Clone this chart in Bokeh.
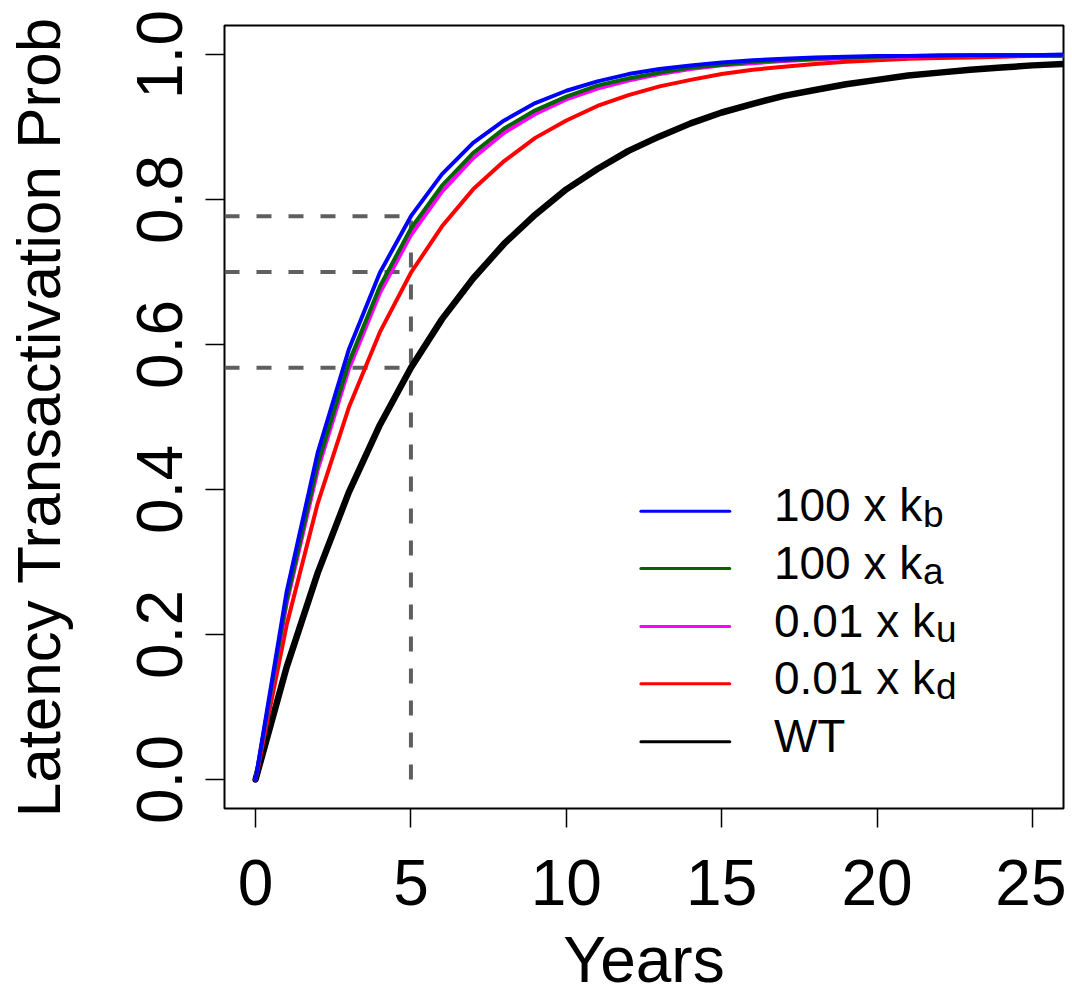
from bokeh.plotting import figure
from bokeh.models import FixedTicker, Range1d, ColumnDataSource
from bokeh.core.properties import value
from bokeh.embed import file_html
from bokeh.resources import INLINE

FONT = "Liberation Sans"

# ---------------- data ----------------
years = list(range(0, 28))
prob_kb_100 = [0, 0.259, 0.451, 0.593, 0.699, 0.777, 0.835, 0.878, 0.909, 0.933, 0.950, 0.963, 0.973, 0.980,
               0.985, 0.989, 0.992, 0.994, 0.996, 0.997, 0.998, 0.998, 0.999, 0.999, 0.999, 0.999, 1.000, 1.000]
prob_ka_100 = [0, 0.248, 0.435, 0.575, 0.680, 0.760, 0.819, 0.864, 0.898, 0.923, 0.942, 0.957, 0.967, 0.975,
               0.982, 0.986, 0.990, 0.992, 0.994, 0.996, 0.997, 0.998, 0.998, 0.999, 0.999, 0.999, 0.999, 1.000]
prob_ku_001 = [0, 0.243, 0.427, 0.566, 0.671, 0.751, 0.811, 0.857, 0.892, 0.918, 0.938, 0.953, 0.964, 0.973,
               0.980, 0.985, 0.988, 0.991, 0.993, 0.995, 0.996, 0.997, 0.998, 0.998, 0.999, 0.999, 0.999, 0.999]
prob_kd_001 = [0, 0.213, 0.381, 0.513, 0.617, 0.699, 0.763, 0.814, 0.853, 0.885, 0.909, 0.929, 0.944, 0.956,
               0.965, 0.973, 0.979, 0.983, 0.987, 0.990, 0.992, 0.994, 0.995, 0.996, 0.997, 0.998, 0.998, 0.999]
prob_wt = [0, 0.155, 0.285, 0.396, 0.489, 0.568, 0.635, 0.691, 0.739, 0.779, 0.814, 0.842, 0.867, 0.887,
           0.905, 0.920, 0.932, 0.943, 0.951, 0.959, 0.965, 0.971, 0.975, 0.979, 0.982, 0.985, 0.987, 0.989]

legend_main = ["100 x k", "100 x k", "0.01 x k", "0.01 x k", "WT"]
legend_sub = ["b", "a", "u", "d", ""]

ref_year = 5
ref_probs = [0.777, 0.700, 0.568]

x_ticks = [0, 5, 10, 15, 20, 25]
y_ticks = [0.0, 0.2, 0.4, 0.6, 0.8, 1.0]
y_tick_labels = ["0.0", "0.2", "0.4", "0.6", "0.8", "1.0"]

# ---------------- styles ----------------
series = [prob_kb_100, prob_ka_100, prob_ku_001, prob_kd_001, prob_wt]
colors = ["#0000FF", "#006400", "#FF00FF", "#FF0000", "#000000"]
widths = [4, 4, 4, 4, 6.5]

p = figure(width=1066, height=1000, output_backend="svg", toolbar_location=None,
           x_range=Range1d(-1, 26), y_range=Range1d(-0.04, 1.04),
           min_border_left=223, min_border_right=3, min_border_top=25, min_border_bottom=192)
p.background_fill_color = "white"
p.border_fill_color = "white"
p.outline_line_color = "black"
p.outline_line_width = 2
p.xgrid.visible = False
p.ygrid.visible = False

# reference dashed lines (drawn beneath curves)
DASH = dict(line_color="#5f5f5f", line_width=4, line_dash="15 17")
p.segment(x0=[p.x_range.start] * len(ref_probs), x1=[ref_year] * len(ref_probs),
          y0=ref_probs, y1=ref_probs, **DASH)
p.segment(x0=[ref_year], x1=[ref_year], y0=[0], y1=[max(ref_probs)], **DASH)

# curves: draw WT first, blue last
for i in reversed(range(len(series))):
    p.line(years, series[i], line_color=colors[i], line_width=widths[i],
           line_cap="round", line_join="round")

# legend (manual, to allow subscripts)
leg_x0, leg_x1, leg_tx = 12.40, 15.26, 16.68
leg_rows = [0.370, 0.291, 0.211, 0.132, 0.052]
sub_offsets = [149, 149, 162, 162, 0]
p.segment(x0=[leg_x0] * 5, x1=[leg_x1] * 5, y0=leg_rows, y1=leg_rows,
          line_color=colors, line_width=3, line_cap="round")
src = ColumnDataSource(dict(x=[leg_tx] * 5, y=leg_rows, main=legend_main, sub=legend_sub, off=sub_offsets))
p.text(x="x", y="y", text="main", source=src, text_font=value(FONT), text_font_size="46px",
       text_color="black", text_baseline="alphabetic", text_align="left", y_offset=-6)
p.text(x="x", y="y", text="sub", source=src, text_font=value(FONT), text_font_size="37px",
       text_color="black", text_baseline="alphabetic", text_align="left", x_offset="off", y_offset=3)

# axes
for ax in (p.xaxis[0], p.yaxis[0]):
    ax.axis_line_color = None
    ax.major_tick_line_color = "black"
    ax.major_tick_line_width = 1.5
    ax.major_tick_out = 19
    ax.major_tick_in = 0
    ax.minor_tick_line_color = None
    ax.major_label_text_font = FONT
    ax.major_label_text_font_size = "64px"
    ax.major_label_text_color = "black"
    ax.axis_label_text_font = FONT
    ax.axis_label_text_font_style = "normal"
    ax.axis_label_text_color = "black"

p.xaxis.ticker = FixedTicker(ticks=x_ticks)
p.xaxis.axis_label = "Years"
p.xaxis.axis_label_text_font_size = "64px"
p.xaxis.major_label_standoff = 32
p.xaxis.axis_label_standoff = 16

p.yaxis.ticker = FixedTicker(ticks=y_ticks)
p.yaxis.major_label_overrides = {t: l for t, l in zip(y_ticks, y_tick_labels)}
p.yaxis.major_label_orientation = "vertical"
p.yaxis.axis_label = "Latency Transactivation Prob"
p.yaxis.axis_label_text_font_size = "62px"
p.yaxis.major_label_standoff = 24
p.yaxis.axis_label_standoff = 61

open("out.html", "w").write(file_html(p, INLINE))
